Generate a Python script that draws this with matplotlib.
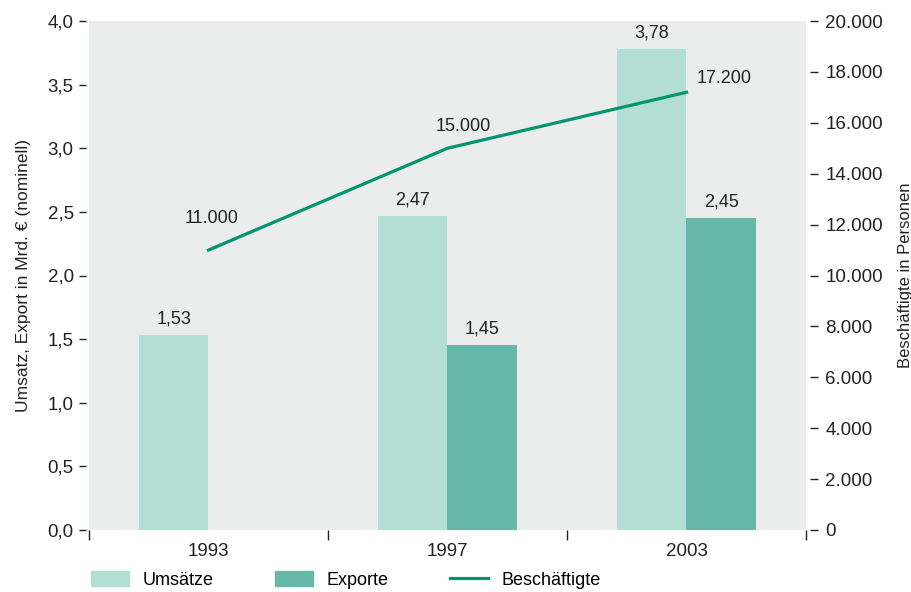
import numpy as np
import matplotlib.pyplot as plt
from matplotlib.patches import Patch
from matplotlib.lines import Line2D

# values
years = ['1993', '1997', '2003']
umsatz = [1.53, 2.47, 3.78]
export = [np.nan, 1.45, 2.45]
beschaeftigte = [11000, 15000, 17200]
umsatz_labels = ['1,53', '2,47', '3,78']
export_labels = ['', '1,45', '2,45']
besch_labels = ['11.000', '15.000', '17.200']

c_umsatz = '#b3ded4'
c_export = '#66b9a8'
c_line = '#00956f'
bg = '#ebedec'
txt = '#222222'

plt.rcParams['font.family'] = ['Liberation Sans', 'DejaVu Sans']
narrow = ['Liberation Sans Narrow', 'Liberation Sans', 'DejaVu Sans']

fig = plt.figure(figsize=(9.12, 5.92), dpi=100)
ax = fig.add_axes([89 / 912, 62 / 592, 717 / 912, 509 / 592])
ax.set_facecolor(bg)
for s in ax.spines.values():
    s.set_visible(False)

x = np.arange(len(years))
w = 0.29
ax.bar(x - w / 2, umsatz, w, color=c_umsatz, zorder=2)
ax.bar(x + w / 2, export, w, color=c_export, zorder=2)

for i in range(len(years)):
    ax.text(x[i] - w / 2, umsatz[i] + 0.06, umsatz_labels[i], ha='center', va='bottom', fontsize=13, color=txt)
    if export_labels[i]:
        ax.text(x[i] + w / 2, export[i] + 0.06, export_labels[i], ha='center', va='bottom', fontsize=13, color=txt)

ax.set_xlim(-0.5, 2.5)
ax.set_ylim(0, 4.0)
ax.set_yticks(np.arange(0, 4.01, 0.5))
ax.set_yticklabels([f'{v:.1f}'.replace('.', ',') for v in np.arange(0, 4.01, 0.5)])
ax.spines['left'].set_position(('outward', 2))
ax.tick_params(axis='y', direction='out', length=5, width=1, pad=4, labelsize=13.5, colors=txt)

ax.set_xticks(x)
ax.set_xticklabels(years, fontfamily=narrow, fontsize=13.5)
ax.set_xticks([-0.5, 0.5, 1.5, 2.5], minor=True)
ax.tick_params(axis='x', which='major', length=0, pad=9, colors=txt)
ax.tick_params(axis='x', which='minor', direction='out', length=7, width=1, colors=txt)

ax.set_ylabel('Umsatz, Export in Mrd. € (nominell)', fontsize=12.5, color=txt, labelpad=12)

ax2 = ax.twinx()
for s in ax2.spines.values():
    s.set_visible(False)
ax2.spines['right'].set_position(('outward', 3))
ax2.plot(x, beschaeftigte, color=c_line, lw=2.3, zorder=3)
ax2.set_ylim(0, 20000)
yt = np.arange(0, 20001, 2000)
ax2.set_yticks(yt)
ax2.set_yticklabels([f'{v:,}'.replace(',', '.') for v in yt])
ax2.tick_params(axis='y', direction='out', length=6, width=1, pad=5, labelsize=13.5, colors=txt)
ax2.set_ylabel('Beschäftigte in Personen', fontsize=12, color=txt, labelpad=11)

# label offsets in points relative to the line points
offsets = [(2, 23, 'center'), (11, 16, 'center'), (7, 10, 'left')]
for i, (dx, dy, ha) in enumerate(offsets):
    ax2.annotate(besch_labels[i], (x[i], beschaeftigte[i]), xytext=(dx, dy), textcoords='offset points',
                 ha=ha, va='center', fontsize=13, color=txt)

handles = [Patch(color=c_umsatz), Patch(color=c_export), Line2D([], [], color=c_line, lw=2.3)]
fig.legend(handles, ['Umsätze', 'Exporte', 'Beschäftigte'], ncol=3, loc='center left',
           bbox_to_anchor=(75 / 912, 12 / 592), frameon=False, handlelength=2.1, handleheight=0.85,
           columnspacing=3.4, handletextpad=0.75, prop={'family': narrow, 'size': 13})

fig.savefig('out.png', dpi=100)
